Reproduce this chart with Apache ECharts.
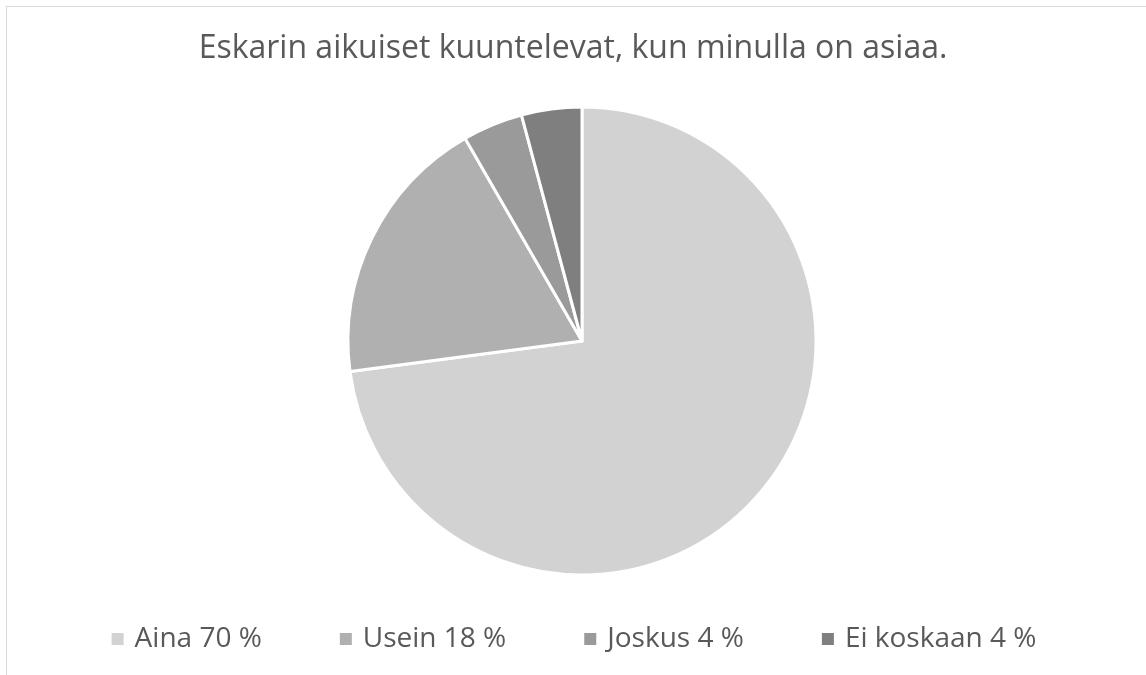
<!DOCTYPE html>
<html>
<head>
<meta charset="utf-8">
<script src="https://cdn.jsdelivr.net/npm/echarts@6/dist/echarts.min.js"></script>
<style>
  html, body { margin: 0; padding: 0; background: #fff; }
  #frame { position: absolute; left: 6px; top: 6px; width: 1150px; height: 680px;
           border-top: 1px solid #d9d9d9; border-left: 1px solid #d9d9d9; }
  #chart { position: absolute; left: 0; top: 0; width: 1146px; height: 675px; }
</style>
</head>
<body>
<div id="frame"></div>
<div id="chart"></div>
<script>
// Vastaukset (%)
const categories = ['Aina', 'Usein', 'Joskus', 'Ei koskaan']
const values = [70, 18, 4, 4]
const colors = ['#d2d2d2', '#b0b0b0', '#9a9a9a', '#7f7f7f']

const chart = echarts.init(document.getElementById('chart'))

chart.setOption({
  animation: false,
  color: colors,
  title: {
    text: 'Eskarin aikuiset kuuntelevat, kun minulla on asiaa.',
    left: 'center',
    top: 28,
    textStyle: { fontFamily: 'Open Sans', fontSize: 32, fontWeight: 'normal', color: '#595959' }
  },
  legend: {
    top: 620,
    left: 'center',
    icon: 'rect',
    itemWidth: 14,
    itemHeight: 14,
    itemGap: 76,
    textStyle: { fontFamily: 'Open Sans', fontSize: 28, color: '#595959', padding: [0, 0, 0, 5] },
    formatter: name => name + ' ' + values[categories.indexOf(name)] + ' %'
  },
  series: [{
    type: 'pie',
    center: [582, 341],
    radius: [0, 234],
    startAngle: 90,
    clockwise: true,
    label: { show: false },
    labelLine: { show: false },
    emphasis: { disabled: true },
    itemStyle: { borderColor: '#fff', borderWidth: 3 },
    data: categories.map((c, i) => ({ name: c, value: values[i] }))
  }]
})
</script>
</body>
</html>
